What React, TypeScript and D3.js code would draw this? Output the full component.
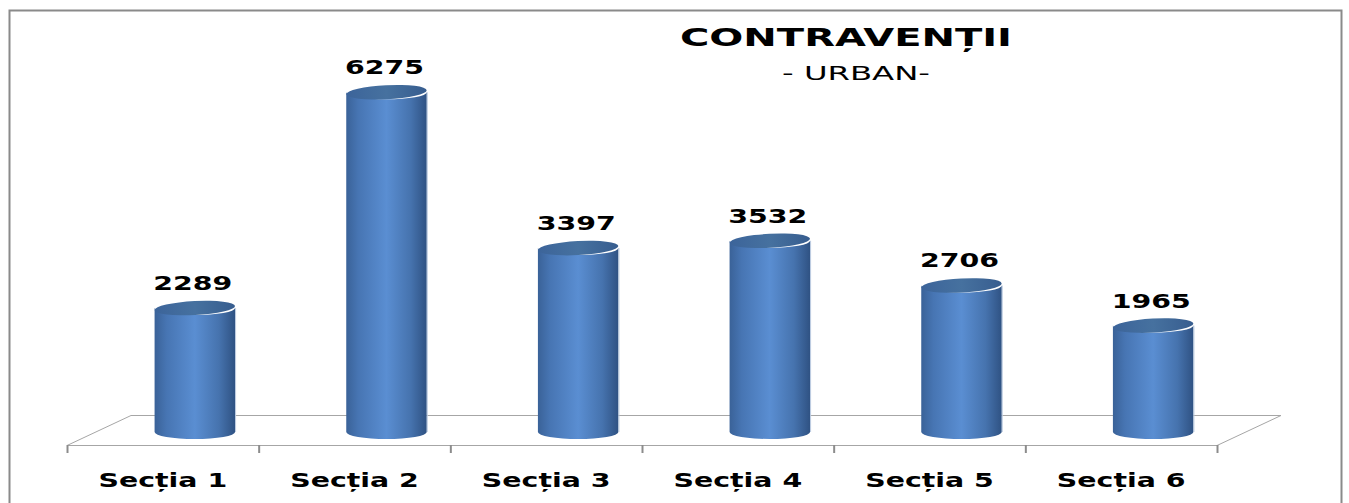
import * as React from "react";
import { scaleBand, scaleLinear } from "d3";

const categories = ["Secția 1", "Secția 2", "Secția 3", "Secția 4", "Secția 5", "Secția 6"];
const values = [2289, 6275, 3397, 3532, 2706, 1965];
const title = "CONTRAVENȚII";
const subtitle = "- URBAN-";

const W = 1349;
const H = 503;

const front = { x0: 67, x1: 1217, y: 445 };
const depth = { dx: 64, dy: -30 };

const Cylinder = (props: { cx: number; top: number; bottom: number; rx: number }) => {
  const { cx, top, bottom, rx } = props;
  const ry = 7;
  const l = cx - rx;
  const r = cx + rx;
  const body = `M${l},${top} L${l},${bottom} A${rx},${ry} 0 0 0 ${r},${bottom} L${r},${top} A${rx},${ry} 0 0 1 ${l},${top} Z`;
  return (
    <g>
      <path d={body} fill="url(#cylBody)" />
      <line x1={r + 0.5} x2={r + 0.5} y1={top} y2={bottom} stroke="#b9c9df" strokeWidth={1} />
      <ellipse
        cx={cx}
        cy={top}
        rx={rx}
        ry={ry}
        fill="url(#cylTop)"
        transform={`rotate(-3 ${cx} ${top})`}
      />
    </g>
  );
};

export default function App() {
  const x = scaleBand<string>().domain(categories).range([front.x0, front.x1]).padding(0);
  const y = scaleLinear().domain([0, 7000]).range([432, 53]);
  const barW = x.bandwidth() * 0.42;
  const textFont = "'DejaVu Sans', Verdana, sans-serif";

  return (
    <svg width={W} height={H} style={{ position: "absolute", left: 0, top: 0 }}>
      <defs>
        <linearGradient id="cylBody" x1="0" x2="1" y1="0" y2="0">
          <stop offset="0" stopColor="#3a6298" />
          <stop offset="0.15" stopColor="#4775b3" />
          <stop offset="0.5" stopColor="#5a8ed2" />
          <stop offset="0.8" stopColor="#4673ae" />
          <stop offset="1" stopColor="#2f5283" />
        </linearGradient>
        <linearGradient id="cylTop" x1="0" x2="1" y1="0" y2="0">
          <stop offset="0" stopColor="#3c649a" />
          <stop offset="0.5" stopColor="#46719f" />
          <stop offset="1" stopColor="#375d8f" />
        </linearGradient>
      </defs>
      <rect width={W} height={H} fill="#fff" />
      {/* frame */}
      <path d={`M9.5,${H} L9.5,10.5 L1341.5,10.5 L1341.5,${H}`} fill="none" stroke="#8a8a8a" strokeWidth={2} />

      {/* floor */}
      <g fill="none" stroke="#a6a6a6" strokeWidth={1}>
        <path
          d={`M${front.x0},${front.y + 0.5} L${front.x0 + depth.dx},${front.y + depth.dy + 0.5} L${front.x1 + depth.dx},${front.y + depth.dy + 0.5} L${front.x1},${front.y + 0.5} Z`}
        />
        {[...categories.map((c) => x(c) as number), front.x1].map((t, i) => (
          <line key={i} x1={t + 0.5} x2={t + 0.5} y1={front.y} y2={front.y + 8} stroke="#8c8c8c" strokeWidth={2} />
        ))}
      </g>

      {/* bars */}
      {categories.map((c, i) => {
        const cx = (x(c) as number) + x.bandwidth() / 2 + depth.dx / 2;
        const top = y(values[i]);
        return (
          <g key={c}>
            <Cylinder cx={cx} top={top} bottom={y(0)} rx={barW / 2} />
            <text
              transform={`translate(${cx - 2},${top - 18}) scale(1.42,1)`}
              textAnchor="middle"
              fontFamily={textFont}
              fontWeight="bold"
              fontSize={20}
              fill="#000"
            >
              {values[i]}
            </text>
          </g>
        );
      })}

      {/* category labels */}
      {categories.map((c) => (
        <text
          key={c}
          transform={`translate(${(x(c) as number) + x.bandwidth() / 2},487) scale(1.42,1)`}
          textAnchor="middle"
          fontFamily={textFont}
          fontWeight="bold"
          fontSize={20}
          fill="#000"
        >
          {c}
        </text>
      ))}

      {/* titles */}
      <text
        x={846}
        y={46}
        textAnchor="middle"
        fontFamily={textFont}
        fontWeight="bold"
        fontSize={24}
        textLength={332}
        lengthAdjust="spacingAndGlyphs"
        fill="#000"
      >
        {title}
      </text>
      <text
        x={856}
        y={80}
        textAnchor="middle"
        fontFamily={textFont}
        fontSize={20}
        textLength={148}
        lengthAdjust="spacingAndGlyphs"
        fill="#000"
      >
        {subtitle}
      </text>
    </svg>
  );
}
